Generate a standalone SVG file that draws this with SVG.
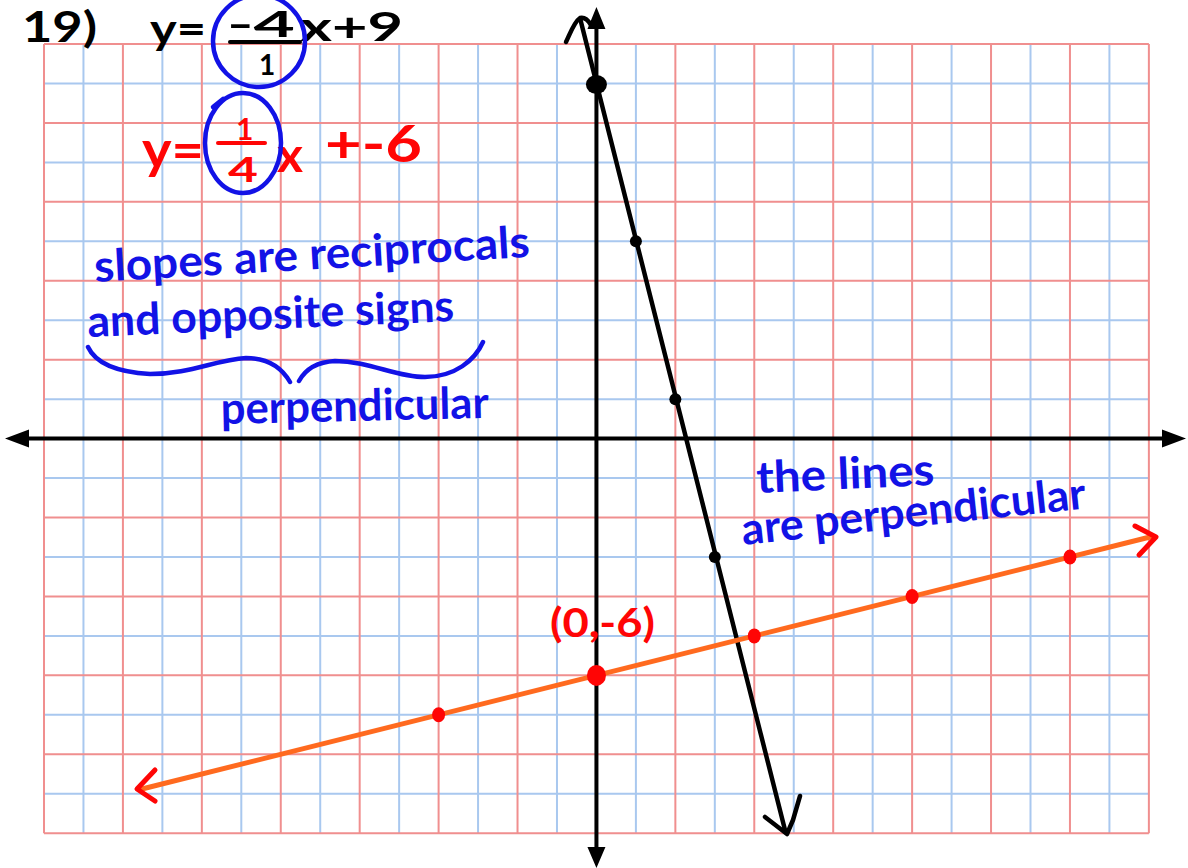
<svg xmlns="http://www.w3.org/2000/svg" width="1188" height="868" viewBox="0 0 1188 868">
<style>
.gb{stroke:#a9c8ef;stroke-width:2;fill:none}
.gr{stroke:#f08f8f;stroke-width:2;fill:none}
.ax{stroke:#000;stroke-width:4;fill:none}
.hw{font-family:Lato,"Open Sans","DejaVu Sans",sans-serif;font-weight:bold}
.blk{fill:#000}
.blu{fill:#1212e6}
.red{fill:#ff0505}
.pen{fill:none;stroke-linecap:round;stroke-linejoin:round}
</style>
<rect width="1188" height="868" fill="#fff"/>
<g id="grid">
<path class="gb" d="M83.46,44V833.2M162.38,44V833.2M241.3,44V833.2M320.22,44V833.2M399.14,44V833.2M478.06,44V833.2M556.98,44V833.2M635.9,44V833.2M714.82,44V833.2M793.74,44V833.2M872.66,44V833.2M951.58,44V833.2M1030.5,44V833.2M1109.42,44V833.2M44,83.46H1148.88M44,162.38H1148.88M44,241.3H1148.88M44,320.22H1148.88M44,399.14H1148.88M44,478.06H1148.88M44,556.98H1148.88M44,635.9H1148.88M44,714.82H1148.88M44,793.74H1148.88"/>
<path class="gr" d="M44,44V833.2M122.92,44V833.2M201.84,44V833.2M280.76,44V833.2M359.68,44V833.2M438.6,44V833.2M517.52,44V833.2M596.44,44V833.2M675.36,44V833.2M754.28,44V833.2M833.2,44V833.2M912.12,44V833.2M991.04,44V833.2M1069.96,44V833.2M1148.88,44V833.2M44,44H1148.88M44,122.92H1148.88M44,201.84H1148.88M44,280.76H1148.88M44,359.68H1148.88M44,438.6H1148.88M44,517.52H1148.88M44,596.44H1148.88M44,675.36H1148.88M44,754.28H1148.88M44,833.2H1148.88"/>
</g>
<g id="axes">
<path class="ax" d="M26,438.6H1164M596.44,27V848"/>
<path d="M5,438.6L29,429.6L29,447.6Z M1186,438.6L1162,429.6L1162,447.6Z M596.44,7L587.44,29L605.44,29Z M596.44,868L587.44,847L605.44,847Z" fill="#000"/>
</g>
<g id="connectors">
<path class="pen" stroke="#000" stroke-width="4.5" d="M580.5,20L785.5,832"/>
<path class="pen" stroke="#000" stroke-width="4.5" d="M566,42C570,34 574,22 580,18C584,17 588,20 591,25"/>
<path class="pen" stroke="#000" stroke-width="4.5" d="M765,817L787,834L793,820L800,796"/>
<path class="pen" stroke="#ff6a1f" stroke-width="5" d="M140,789.5L1152,536.5"/>
<path class="pen" stroke="#ff0505" stroke-width="5" d="M155,770L137,789L155,801"/>
<path class="pen" stroke="#ff0505" stroke-width="5" d="M1135,526L1156,537L1139,555"/>
</g>
<g id="black-points" fill="#000">
<ellipse cx="596.44" cy="84.5" rx="10.5" ry="9.5"/>
<circle cx="635.9" cy="241.3" r="6"/>
<circle cx="675.36" cy="399.14" r="6"/>
<circle cx="714.82" cy="556.98" r="6"/>
</g>
<g id="red-points" fill="#ff0505">
<ellipse cx="596.44" cy="675.4" rx="9.5" ry="10.5"/>
<ellipse cx="438.6" cy="714.8" rx="6.5" ry="7.5"/>
<ellipse cx="754.28" cy="635.9" rx="6.5" ry="7.5"/>
<ellipse cx="912.12" cy="596.44" rx="6.5" ry="7.5"/>
<ellipse cx="1069.96" cy="556.98" rx="6.5" ry="7.5"/>
</g>
<g id="eq1">
<text class="hw blk" x="22" y="42" font-size="42" textLength="75" lengthAdjust="spacingAndGlyphs">19)</text>
<text class="hw blk" x="150" y="44" font-size="42" textLength="56" lengthAdjust="spacingAndGlyphs">y=</text>
<text class="hw blk" x="227" y="37" font-size="36" textLength="68" lengthAdjust="spacingAndGlyphs">-4</text>
<path class="pen" stroke="#000" stroke-width="4" d="M230,42H300"/>
<text class="hw blk" x="259" y="75" font-size="28">1</text>
<text class="hw blk" x="300" y="41" font-size="40" textLength="103" lengthAdjust="spacingAndGlyphs">x+9</text>
<ellipse class="pen" stroke="#1212e6" stroke-width="4.5" cx="259" cy="41" rx="46" ry="46"/>
</g>
<g id="eq2">
<text class="hw red" x="142" y="168" font-size="52" textLength="62" lengthAdjust="spacingAndGlyphs">y=</text>
<text class="hw red" x="236" y="140" font-size="30">1</text>
<path class="pen" stroke="#ff0505" stroke-width="4" d="M218,143H265"/>
<text class="hw red" x="228" y="182" font-size="35" textLength="30" lengthAdjust="spacingAndGlyphs">4</text>
<text class="hw red" x="277" y="172" font-size="48" textLength="26" lengthAdjust="spacingAndGlyphs">x</text>
<text class="hw red" x="325" y="162" font-size="52" textLength="97" lengthAdjust="spacingAndGlyphs">+-6</text>
<ellipse class="pen" stroke="#1212e6" stroke-width="4.5" cx="243" cy="143" rx="38" ry="50"/>
<path class="pen" stroke="#1212e6" stroke-width="4.5" d="M213,107L223,99"/>
</g>
<g id="note-slopes">
<text class="hw blu" x="95" y="282" font-size="44" textLength="436" lengthAdjust="spacingAndGlyphs" transform="rotate(-3.3 95 282)">slopes are reciprocals</text>
<text class="hw blu" x="88" y="337" font-size="44" textLength="367" lengthAdjust="spacingAndGlyphs" transform="rotate(-2.5 88 337)">and opposite signs</text>
<path class="pen" stroke="#1212e6" stroke-width="4.5" d="M88,347C95,362 115,372 150,374C190,374 215,360 246,358C268,358 282,368 290,382M299,381C305,370 315,362 335,361C370,361 395,377 425,377C455,377 475,360 483,342"/>
<text class="hw blu" x="221" y="424" font-size="44" textLength="268" lengthAdjust="spacingAndGlyphs" transform="rotate(-1.3 221 424)">perpendicular</text>
</g>
<g id="note-lines">
<text class="hw blu" x="757" y="493" font-size="44" textLength="178" lengthAdjust="spacingAndGlyphs" transform="rotate(-2.6 757 493)">the lines</text>
<text class="hw blu" x="743" y="545" font-size="44" textLength="346" lengthAdjust="spacingAndGlyphs" transform="rotate(-6.1 743 545)">are perpendicular</text>
</g>
<g id="label-intercept">
<text class="hw red" x="550" y="637" font-size="40" textLength="105" lengthAdjust="spacingAndGlyphs">(0,-6)</text>
</g>
</svg>
